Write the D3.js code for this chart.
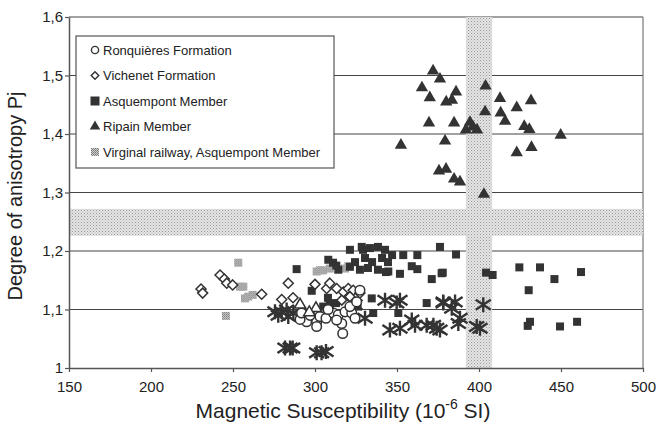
<!DOCTYPE html>
<html>
<head>
<meta charset="utf-8">
<script src="https://cdn.jsdelivr.net/npm/d3@7"></script>
<style>
  body { margin: 0; background: #fff; }
  svg { font-family: "Liberation Sans", Arial, sans-serif; }
</style>
</head>
<body>
<div id="chart"></div>
<script>
// ---- data ----
const xTicks = [150, 200, 250, 300, 350, 400, 450, 500];
const yTicks = [1, 1.1, 1.2, 1.3, 1.4, 1.5, 1.6];

const ronquieres = [
  [301, 1.079], [303, 1.088], [306.7, 1.085], [311.2, 1.094], [314.2, 1.091], [318.3, 1.096],
  [322.4, 1.094], [324.4, 1.085], [316.3, 1.076], [316.9, 1.059], [313.2, 1.082], [321.3, 1.105],
  [325.4, 1.113], [327.4, 1.133], [294.9, 1.079], [290.9, 1.083], [301, 1.071], [291.8, 1.094],
  [308, 1.1], [297, 1.09]
];
const vichenet = [
  [242.1, 1.159], [244.7, 1.152], [246.2, 1.145], [230.5, 1.135], [231.5, 1.128], [249.8, 1.142],
  [267.5, 1.126], [283.7, 1.145], [279.7, 1.117], [300, 1.143], [307.1, 1.136], [309, 1.145],
  [313.2, 1.136], [317.3, 1.13], [320.3, 1.136], [323.3, 1.133], [327.4, 1.128], [321.3, 1.122],
  [316.3, 1.116], [286.6, 1.12]
];
const asquempont = [
  [376.2, 1.207], [386, 1.194], [377.9, 1.163], [404.3, 1.163], [408.3, 1.159], [424.6, 1.172],
  [437.2, 1.172], [446, 1.152], [430.3, 1.133], [431.1, 1.079], [429.7, 1.072], [449.4, 1.071],
  [462.2, 1.164], [459.8, 1.079], [321.3, 1.202], [328.5, 1.207], [353.8, 1.193], [362.4, 1.193],
  [359, 1.174], [362.4, 1.169], [344.7, 1.165], [351.8, 1.161], [371.2, 1.152], [377.2, 1.162],
  [334.6, 1.119], [368.1, 1.111], [335.5, 1.094], [350.8, 1.094], [314.2, 1.168], [321.3, 1.173],
  [288.8, 1.169], [298, 1.132], [308.1, 1.185], [311, 1.18], [313, 1.175], [305, 1.105], [309, 1.108],
  [329.3, 1.202], [333.5, 1.205], [338.4, 1.207], [342.7, 1.202], [330.5, 1.188], [334.8, 1.181],
  [340.9, 1.188], [344.5, 1.181], [332.3, 1.171], [338.4, 1.168], [343.3, 1.164], [327.4, 1.168],
  [347, 1.193], [324.4, 1.181], [312.8, 1.111], [307.9, 1.12], [326, 1.105]
];
const ripain = [
  [372, 1.508], [376.2, 1.494], [365.2, 1.479], [370, 1.462], [386, 1.472], [380, 1.455],
  [383.5, 1.458], [404, 1.482], [403.7, 1.438], [369.5, 1.419], [384.8, 1.419], [394.5, 1.42],
  [396.3, 1.412], [392, 1.407], [398.8, 1.407], [379.3, 1.388], [352.4, 1.381], [375.6, 1.337],
  [379.9, 1.34], [384.8, 1.323], [388.4, 1.318], [403, 1.297], [412.8, 1.461], [413.2, 1.436],
  [415.9, 1.422], [423, 1.445], [431.7, 1.457], [427.6, 1.413], [430.7, 1.408], [449.8, 1.398],
  [423, 1.368], [432, 1.377]
];
const virginal = [
  [253.2, 1.18], [254.3, 1.139], [256.3, 1.139], [257.3, 1.119], [259.3, 1.122], [262, 1.125],
  [245.7, 1.089], [301, 1.165], [303, 1.167], [305, 1.167], [318.3, 1.17], [320.3, 1.174], [309, 1.17]
];
// unlabelled series in the original: asterisks and open triangles
const asterisks = [
  [275.6, 1.096], [279.7, 1.096], [282.7, 1.099], [277.6, 1.09], [283.7, 1.088], [286.8, 1.094],
  [293.9, 1.091], [281.7, 1.034], [284.8, 1.034], [286.4, 1.034], [301, 1.026], [304, 1.026],
  [306.7, 1.028], [342.7, 1.116], [351.8, 1.116], [349.8, 1.111], [330.5, 1.085], [345.7, 1.065],
  [351.8, 1.068], [359, 1.082], [361, 1.073], [368.1, 1.073], [372.2, 1.073], [374.2, 1.068],
  [378.2, 1.113], [324.4, 1.108], [378.2, 1.111], [385.4, 1.113], [383.4, 1.102], [388.4, 1.085],
  [387.4, 1.076], [398.6, 1.071], [400.6, 1.068], [402.6, 1.108], [376.2, 1.065]
];
const openTriangles = [[290.9, 1.108], [300.6, 1.102], [296.5, 1.095]];

const hBand = [1.226, 1.272];   // horizontal shaded band (Pj)
const vBand = [392, 408];       // vertical shaded band (susceptibility)

const legendItems = [
  { label: "Ronquières Formation", type: "circle" },
  { label: "Vichenet Formation", type: "diamond" },
  { label: "Asquempont Member", type: "square" },
  { label: "Ripain Member", type: "triangle" },
  { label: "Virginal railway, Asquempont Member", type: "stipple" }
];

// ---- chart ----
const width = 660, height = 430;
const ink = "#333";

const svg = d3.select("#chart").append("svg")
  .attr("width", width)
  .attr("height", height);

const defs = svg.append("defs");
const band = defs.append("pattern")
  .attr("id", "dots").attr("width", 3).attr("height", 3)
  .attr("patternUnits", "userSpaceOnUse");
band.append("rect").attr("width", 3).attr("height", 3).attr("fill", "#e4e4e4");
band.append("rect").attr("width", 1).attr("height", 1).attr("fill", "#9a9a9a");
band.append("rect").attr("x", 1.5).attr("y", 1.5).attr("width", 1).attr("height", 1).attr("fill", "#b4b4b4");

const stip = defs.append("pattern")
  .attr("id", "stip").attr("width", 2).attr("height", 2)
  .attr("patternUnits", "userSpaceOnUse");
stip.append("rect").attr("width", 2).attr("height", 2).attr("fill", "#d0d0d0");
stip.append("rect").attr("width", 1).attr("height", 1).attr("fill", "#777");
stip.append("rect").attr("x", 1).attr("y", 1).attr("width", 1).attr("height", 1).attr("fill", "#888");

const x = d3.scaleLinear().domain([150, 500]).range([69, 643]);
const y = d3.scaleLinear().domain([1, 1.6]).range([368, 17]);

// grid lines
svg.append("g")
  .selectAll("line")
  .data(yTicks.slice(1))
  .join("line")
  .attr("x1", x(150)).attr("x2", x(500))
  .attr("y1", d => y(d)).attr("y2", d => y(d))
  .attr("stroke", "#444").attr("stroke-width", 1.2);

// right border
svg.append("line")
  .attr("x1", x(500)).attr("x2", x(500))
  .attr("y1", y(1.6)).attr("y2", y(1))
  .attr("stroke", "#777").attr("stroke-width", 1.2);

// shaded bands
svg.append("rect")
  .attr("x", x(150)).attr("width", x(500) - x(150))
  .attr("y", y(hBand[1])).attr("height", y(hBand[0]) - y(hBand[1]))
  .attr("fill", "url(#dots)");
svg.append("rect")
  .attr("x", x(vBand[0])).attr("width", x(vBand[1]) - x(vBand[0]))
  .attr("y", y(1.6)).attr("height", y(1) - y(1.6))
  .attr("fill", "url(#dots)");

// axes
const fmt = d => d === 1 ? "1" : d3.format(".1f")(d).replace(".", ",");

const xAxis = svg.append("g")
  .attr("transform", `translate(0,${y(1)})`)
  .call(d3.axisBottom(x).tickValues(xTicks).tickSize(4).tickPadding(9).tickSizeOuter(0));
const yAxis = svg.append("g")
  .attr("transform", `translate(${x(150)},0)`)
  .call(d3.axisLeft(y).tickValues(yTicks).tickFormat(fmt).tickSize(4).tickPadding(2).tickSizeOuter(0));

[xAxis, yAxis].forEach(a => {
  a.select(".domain").attr("stroke", "#555").attr("stroke-width", 1.5);
  a.selectAll(".tick line").attr("stroke", "#555").attr("stroke-width", 1.2);
  a.selectAll("text").attr("font-size", 15).attr("fill", "#222")
    .attr("font-family", "'Liberation Sans', Arial, sans-serif");
});

// axis titles
const xTitle = svg.append("text")
  .attr("x", 343).attr("y", 418)
  .attr("text-anchor", "middle")
  .attr("font-size", 21).attr("fill", "#222");
xTitle.append("tspan").text("Magnetic Susceptibility (10");
xTitle.append("tspan").attr("dy", -9).attr("font-size", 14).text("-6");
xTitle.append("tspan").attr("dy", 9).text(" SI)");

svg.append("text")
  .attr("transform", "translate(22,196) rotate(-90)")
  .attr("text-anchor", "middle")
  .attr("font-size", 20).attr("fill", "#222")
  .text("Degree of anisotropy Pj");

// symbols
const sym = (type, size) => d3.symbol().type(type).size(size)();
const points = svg.append("g");

function drawSeries(data, draw) {
  data.forEach(d => draw(points.append("g").attr("transform", `translate(${x(d[0])},${y(d[1])})`)));
}

const asteriskPath = "M0,-7.5L0,7.5M-7.5,-5L7.5,5M-7.5,5L7.5,-5";
const diamondPath = s => `M0,${-s}L${s},0L0,${s}L${-s},0Z`;

drawSeries(asterisks, g => g.append("path").attr("d", asteriskPath)
  .attr("stroke", ink).attr("stroke-width", 2.4).attr("fill", "none"));
drawSeries(virginal, g => g.append("rect")
  .attr("x", -4).attr("y", -4).attr("width", 8).attr("height", 8).attr("fill", "url(#stip)"));
drawSeries(asquempont, g => g.append("rect")
  .attr("x", -4).attr("y", -4).attr("width", 8).attr("height", 8).attr("fill", ink));
drawSeries(vichenet, g => g.append("path").attr("d", diamondPath(5))
  .attr("fill", "#fff").attr("stroke", ink).attr("stroke-width", 1.5));
drawSeries(ronquieres, g => g.append("circle").attr("r", 4.8)
  .attr("fill", "#fff").attr("stroke", ink).attr("stroke-width", 1.5));
drawSeries(openTriangles, g => g.append("path").attr("d", sym(d3.symbolTriangle, 55))
  .attr("fill", "#fff").attr("stroke", ink).attr("stroke-width", 1.5));
drawSeries(ripain, g => g.append("path").attr("d", sym(d3.symbolTriangle, 66))
  .attr("fill", ink));

// legend
const legend = svg.append("g");
legend.append("rect")
  .attr("x", 76).attr("y", 36).attr("width", 258).attr("height", 132)
  .attr("fill", "#fff").attr("stroke", "#555").attr("stroke-width", 1.2);

legendItems.forEach((item, i) => {
  const ly = 50 + i * 25.5;
  const g = legend.append("g").attr("transform", `translate(95,${ly})`);
  if (item.type === "circle") {
    g.append("circle").attr("r", 3.6).attr("fill", "#fff").attr("stroke", ink).attr("stroke-width", 1.4);
  } else if (item.type === "diamond") {
    g.append("path").attr("d", diamondPath(3.8)).attr("fill", "#fff").attr("stroke", ink).attr("stroke-width", 1.4);
  } else if (item.type === "square") {
    g.append("rect").attr("x", -4.5).attr("y", -4.5).attr("width", 9).attr("height", 9).attr("fill", ink);
  } else if (item.type === "triangle") {
    g.append("path").attr("d", sym(d3.symbolTriangle, 48)).attr("fill", ink);
  } else {
    g.append("rect").attr("x", -4).attr("y", -4).attr("width", 8).attr("height", 8).attr("fill", "url(#stip)");
  }
  legend.append("text")
    .attr("x", 103).attr("y", ly + 4.5)
    .attr("font-size", 13).attr("fill", "#222")
    .text(item.label);
});
</script>
</body>
</html>
